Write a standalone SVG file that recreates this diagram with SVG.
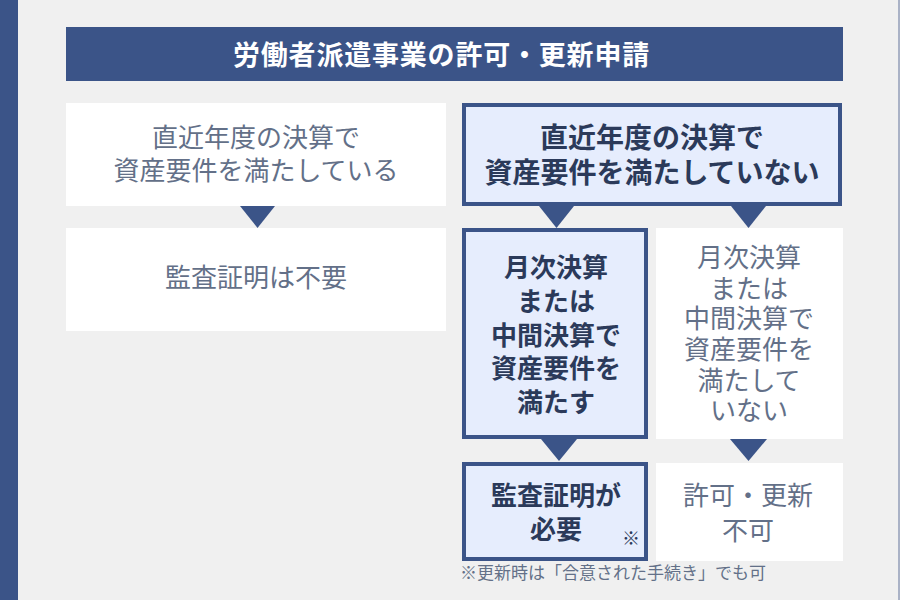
<svg xmlns="http://www.w3.org/2000/svg" width="900" height="600" viewBox="0 0 900 600">
<style>
text{font-family:"Noto Sans CJK JP","Noto Sans CJK SC",sans-serif;}
.plain{fill:#ffffff;}
.hl{fill:#e6edfd;stroke:#3b5488;stroke-width:4;}
.tg{fill:#637088;font-size:26px;text-anchor:middle;}
.td{fill:#2b3a5a;font-size:26px;font-weight:bold;text-anchor:middle;}
.arr{fill:#3b5488;}
</style>
<rect x="0" y="0" width="900" height="600" fill="#f0f0f0"/>
<rect x="0" y="0" width="18" height="600" fill="#3b5488"/>
<rect x="898" y="0" width="2" height="600" fill="#aab2c6"/>
<g id="title">
<rect x="66" y="27" width="777" height="54" fill="#3b5488"/>
<text x="233" y="65" style="fill:#ffffff;font-size:27px;font-weight:bold;letter-spacing:0.8px;">労働者派遣事業の許可・更新申請</text>
</g>
<g id="meets">
<rect class="plain" x="66" y="103" width="380" height="103"/>
<text class="tg"><tspan x="256" y="147">直近年度の決算で</tspan><tspan x="256" y="180">資産要件を満たしている</tspan></text>
</g>
<g id="not-meets">
<rect class="hl" x="464" y="105" width="376" height="99"/>
<text class="td" style="font-size:28px"><tspan x="652" y="148">直近年度の決算で</tspan><tspan x="652" y="183">資産要件を満たしていない</tspan></text>
</g>
<g id="no-audit">
<rect class="plain" x="66" y="228" width="380" height="103"/>
<text class="tg" x="256" y="287">監査証明は不要</text>
</g>
<g id="interim-meets">
<rect class="hl" x="464" y="230" width="182" height="207"/>
<text class="td"><tspan x="556" y="277">月次決算</tspan><tspan x="556" y="311">または</tspan><tspan x="556" y="345">中間決算で</tspan><tspan x="556" y="378">資産要件を</tspan><tspan x="556" y="412">満たす</tspan></text>
</g>
<g id="interim-not">
<rect class="plain" x="656" y="228" width="187" height="211"/>
<text class="tg"><tspan x="749" y="267">月次決算</tspan><tspan x="749" y="298">または</tspan><tspan x="749" y="328">中間決算で</tspan><tspan x="749" y="359">資産要件を</tspan><tspan x="749" y="390">満たして</tspan><tspan x="749" y="420">いない</tspan></text>
</g>
<g id="audit-required">
<rect class="hl" x="464" y="464" width="182" height="95"/>
<text class="td"><tspan x="556" y="505">監査証明が</tspan><tspan x="556" y="539">必要</tspan></text>
<text x="631" y="545" style="fill:#2b3a5a;font-size:18px;text-anchor:middle;">※</text>
</g>
<g id="not-permitted">
<rect class="plain" x="656" y="463" width="187" height="98"/>
<text class="tg"><tspan x="748" y="505">許可・更新</tspan><tspan x="748" y="540">不可</tspan></text>
</g>
<g id="connectors">
<polygon class="arr" points="240,206 275,206 257.5,228"/>
<polygon class="arr" points="539,206 574,206 556.5,228"/>
<polygon class="arr" points="731,206 766,206 748.5,228"/>
<polygon class="arr" points="541,439 577,439 559,461"/>
<polygon class="arr" points="730,439 767,439 748.5,461"/>
</g>
<text x="460" y="579" style="fill:#637088;font-size:17px;">※更新時は「合意された手続き」でも可</text>
</svg>
